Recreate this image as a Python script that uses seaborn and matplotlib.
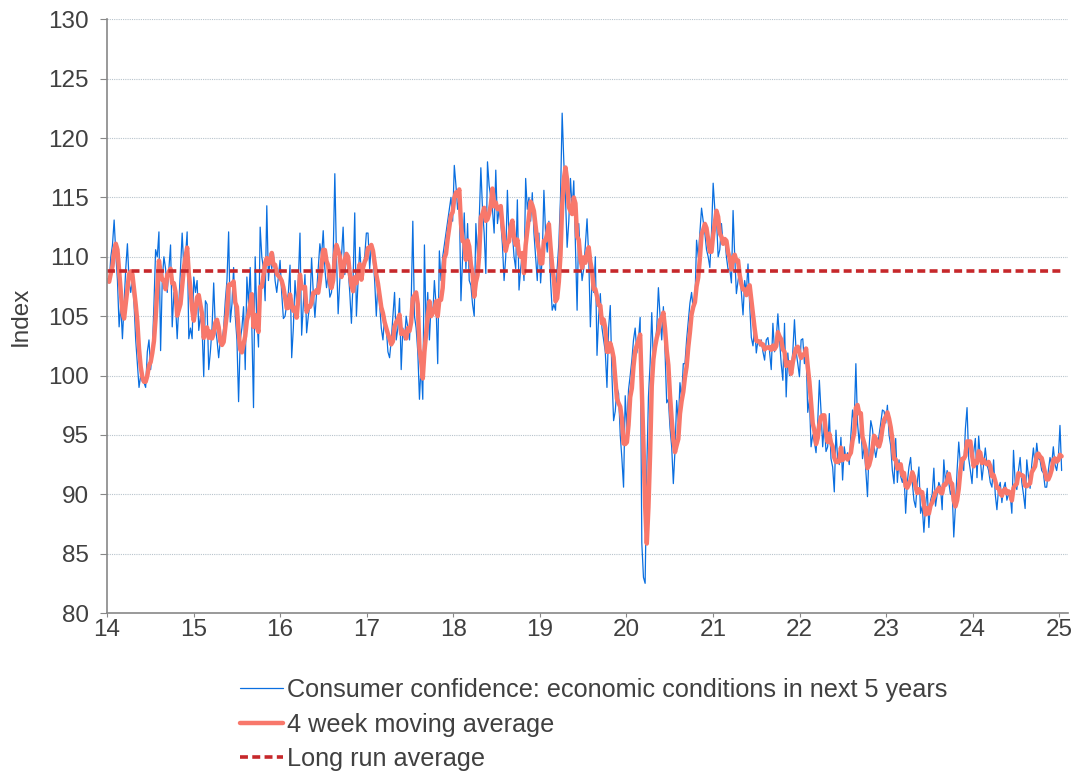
import pandas as pd
import numpy as np
import matplotlib
matplotlib.use('Agg')
import matplotlib.pyplot as plt
import matplotlib.dates as mdates
import seaborn as sns

# Weekly index values
y2014 = [108, 107.8, 110, 111, 113.1, 110.3, 108, 104.1, 106, 103.1, 106, 109, 111.1,
         108, 107, 108, 106, 103, 101, 99, 100, 99.5, 99.4, 99, 102, 103, 100.5, 102.1,
         106, 110.6, 110, 112.1, 102.1, 108, 110, 109, 107, 109, 111, 104.1, 107, 106,
         103.1, 106, 109, 112, 109, 110, 112.1, 103.1, 104, 103.1]
y2015 = [108.3, 107, 108, 103.8, 105, 104, 99.9, 106.3, 106, 100.5, 102, 104, 107.8,
         104, 103, 101.5, 103, 102.8, 104, 106.3, 108, 112.1, 104.5, 106, 109.1, 105,
         103, 97.8, 103, 104, 105.8, 100.5, 108.3, 106, 109.1, 104, 97.3, 110, 105,
         102.4, 112.5, 110, 109, 106.3, 114.3, 108, 110, 109, 110.3, 108, 107, 108.3]
y2016 = [109.7, 106.9, 104.8, 105, 106, 107, 109.3, 101.5, 104, 108, 106, 108, 112,
         103.4, 106, 108.5, 103.6, 105, 106, 109.9, 107, 104.9, 107, 109, 111.1, 110,
         112.2, 109, 107.4, 108.5, 106.6, 107, 110, 117, 110, 105.2, 108, 110, 112.5,
         108.5, 110, 109, 107, 104.4, 108, 113.7, 105, 108, 110.8, 108.5, 109, 110]
y2017 = [112, 112, 109, 111, 110, 108, 105, 108, 106, 104, 103, 105, 104, 102, 101.5,
         103, 105, 107, 103, 104, 106.5, 100.5, 104, 103, 105, 104, 103, 106, 113, 105,
         104, 102, 98, 101, 98, 111, 104, 107, 103, 106, 105, 108, 106, 101, 110.5, 108,
         110, 111, 112, 113, 114, 115]
y2018 = [113, 117.7, 116, 114, 115, 106.3, 110, 113.7, 109, 112.8, 108, 107.6, 106,
         105, 112.8, 110, 113, 117.5, 114, 112, 108.6, 118, 116, 115, 114, 112, 117.3,
         112.8, 114, 113, 111, 108, 110, 115.6, 111.6, 113, 112, 110, 109, 114.8, 107.2,
         109, 110.3, 108, 116.6, 114, 115, 113, 115.4, 112, 110, 108]
y2019 = [112, 107.8, 110, 115.6, 112, 110.4, 113, 108, 105.5, 106, 105.5, 109, 111.1,
         115, 122.1, 118, 115, 110.8, 113, 116.6, 114, 116.4, 111, 105.5, 112.8, 110,
         108, 109, 111, 113.2, 110, 104.1, 108, 107, 110, 101.7, 105, 106.9, 104, 103,
         102, 99, 104, 105.9, 100, 96.2, 97, 99, 98.5, 95, 93, 90.6]
y2020 = [98.3, 95.6, 98.8, 100, 101.3, 103, 104, 101.9, 103, 104.9, 85.9, 83, 82.5, 92,
         98.2, 101, 105.3, 101, 102.4, 104, 107.4, 105, 103, 105.8, 102, 97.7, 98, 95.6,
         94, 90.9, 93.7, 97.9, 96.1, 99.4, 98, 101, 101, 103, 104.5, 106.1, 107, 105.5,
         106.1, 111.4, 110, 112, 114.1, 113, 112, 110.6, 110, 109.1]
y2021 = [112, 116.2, 114, 113.3, 110, 110.6, 112.8, 111, 111.6, 110, 108.9, 109, 107.8,
         113.9, 110, 106.9, 108, 108.9, 107, 105.1, 108, 107, 109.4, 106, 103.2, 102.5,
         104.1, 101.9, 103, 102.5, 103, 102, 101.3, 103, 103.2, 102, 100.5, 104.4, 102,
         103, 105.2, 103, 101, 99.6, 104.4, 98.2, 101.9, 100, 100.5, 102, 104.7, 102]
y2022 = [101, 99.9, 103, 103.1, 101, 102, 96.9, 98, 94, 95, 94.4, 93.5, 96, 99.6, 97,
         94, 96, 93.6, 94, 96.8, 93, 92.3, 90.2, 95.4, 93, 92.5, 94.8, 91.2, 94, 93,
         93.5, 92.5, 95, 97.1, 96, 101, 96, 94.3, 96, 93, 94, 92, 89.8, 94, 96.2, 95.5,
         94, 93.1, 94, 95, 96, 97.1]
y2023 = [97, 96, 97.5, 95, 94.1, 92, 90.9, 94.7, 91, 92.9, 91.5, 91, 91.8, 88.4, 91,
         92.3, 93.1, 91, 89.5, 88.9, 91, 92.3, 88.4, 89, 86.8, 89, 90.5, 87.2, 89.5, 90,
         92.2, 89, 90, 91, 90.6, 88.7, 92.9, 91, 92, 91, 90, 90.5, 86.4, 89, 92, 94.4,
         92.5, 93, 92, 95.5, 97.3, 93]
y2024 = [92, 90.9, 93.5, 94.7, 91.4, 94.9, 93, 91.2, 92.5, 93.9, 92.5, 92, 91, 90.6,
         92.9, 90, 88.7, 90.5, 91, 89.3, 90.5, 91, 89.5, 90, 90, 88.4, 93.7, 91, 90.4,
         92, 93.1, 91, 90, 88.8, 92.9, 91.5, 90.5, 92.5, 93.9, 92.5, 94.3, 93, 92.9, 92,
         91.8, 90.6, 90.6, 92, 93.1, 92.5, 94, 92.5]
y2025 = [92, 93, 95.8, 92]

long_run_avg = 108.8
year_ticks = list(range(2014, 2026))

values = y2014 + y2015 + y2016 + y2017 + y2018 + y2019 + y2020 + y2021 + y2022 + y2023 + y2024 + y2025
dates = pd.date_range('2014-01-03', periods=len(values), freq='W-FRI')

df = pd.DataFrame({'Date': dates, 'Index': values})
df['MA4'] = df['Index'].rolling(4, min_periods=1).mean()
df['LongRun'] = long_run_avg

sns.set_style('white')
plt.rcParams['font.family'] = ['Liberation Sans', 'DejaVu Sans']

fig = plt.figure(figsize=(10.81, 7.74), dpi=100)
ax = fig.add_axes([0.099, 0.208, 0.889, 0.767])

sns.lineplot(data=df, x='Date', y='Index', ax=ax, color='#0a6fe0', linewidth=0.9,
             label='Consumer confidence: economic conditions in next 5 years')
sns.lineplot(data=df, x='Date', y='MA4', ax=ax, color='#f8786b', linewidth=3.2,
             label='4 week moving average')
sns.lineplot(data=df, x='Date', y='LongRun', ax=ax, color='#c6282b', linewidth=2.6,
             linestyle=(0, (2.2, 1.2)), label='Long run average')

ax.set_ylim(80, 130)
ax.set_yticks(range(80, 131, 5))
ax.set_xlim(pd.Timestamp('2014-01-01'), pd.Timestamp('2025-02-06'))
ax.set_xticks([pd.Timestamp(f'{y}-01-01') for y in year_ticks])
ax.xaxis.set_major_formatter(mdates.DateFormatter('%y'))

ax.grid(axis='y', color='#b8c4cc', linestyle=(0, (1, 1)), linewidth=0.8)
ax.set_axisbelow(True)
for s in ['top', 'right']:
    ax.spines[s].set_visible(False)
for s in ['left', 'bottom']:
    ax.spines[s].set_color('#888888')
    ax.spines[s].set_linewidth(1.2)
ax.tick_params(axis='both', direction='out', length=5, color='#888888', labelsize=17.5,
               labelcolor='#404040', left=True, bottom=True)
ax.tick_params(axis='y', pad=8)
ax.tick_params(axis='x', length=3, pad=1.5)
ax.set_xlabel('')
ax.set_ylabel('Index', fontsize=17.5, color='#404040', labelpad=12)

ax.legend(loc='upper left', bbox_to_anchor=(240 / 1081, 1 - 678 / 774),
          bbox_transform=fig.transFigure, frameon=False, fontsize=18.2,
          handlelength=1.7, handletextpad=0.15, labelspacing=0.42,
          borderpad=0, borderaxespad=0, labelcolor='#404040')

fig.savefig('out.png', dpi=100)
